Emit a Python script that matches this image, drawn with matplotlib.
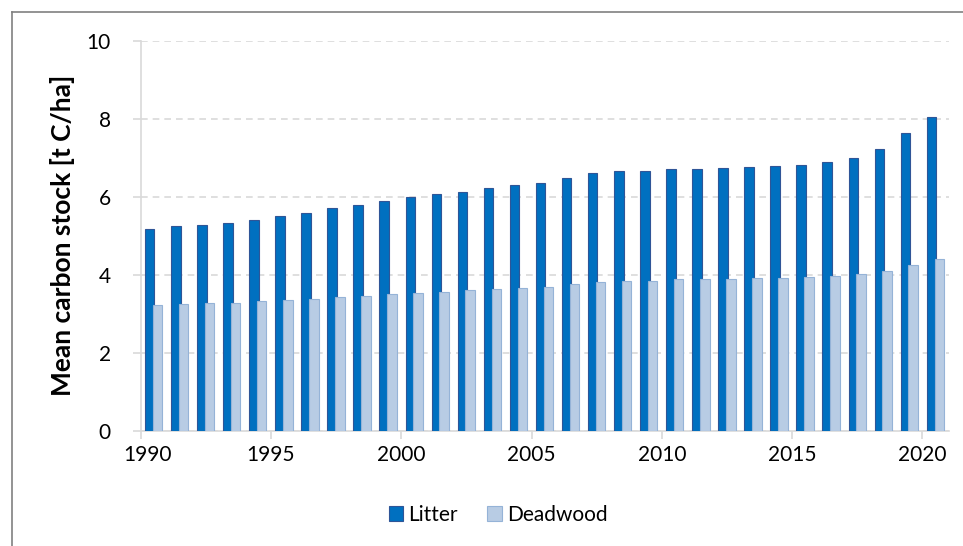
import numpy as np
import matplotlib
matplotlib.use('Agg')
import matplotlib.pyplot as plt
from matplotlib.lines import Line2D
import matplotlib.transforms as mtransforms

plt.rcParams['font.family'] = ['Lato', 'DejaVu Sans']

# datos
anios = list(range(1990, 2021))
litter = [5.17, 5.24, 5.27, 5.32, 5.41, 5.51, 5.59, 5.71, 5.80, 5.89,
          5.99, 6.07, 6.13, 6.22, 6.30, 6.36, 6.49, 6.62, 6.66, 6.67,
          6.72, 6.72, 6.73, 6.76, 6.78, 6.81, 6.89, 7.00, 7.24, 7.63, 8.04]
deadwood = [3.22, 3.25, 3.27, 3.28, 3.32, 3.35, 3.39, 3.42, 3.46, 3.50,
            3.54, 3.57, 3.60, 3.64, 3.67, 3.70, 3.76, 3.82, 3.84, 3.85,
            3.88, 3.89, 3.90, 3.91, 3.93, 3.95, 3.98, 4.02, 4.11, 4.26, 4.41]
etiquetas_x = ['1990', '1995', '2000', '2005', '2010', '2015', '2020']
etiquetas_y = [0, 2, 4, 6, 8, 10]

fig = plt.figure(figsize=(9.63, 5.46), dpi=100)
ax = fig.add_axes([0.1461, 0.2112, 0.8389, 0.7137])

x = np.arange(len(anios))
ancho = 0.365
ax.bar(x + 0.345, litter, width=ancho, color='#0070C0', edgecolor='#2F5597',
       linewidth=0.8, label='Litter', zorder=3)
ax.bar(x + 0.645, deadwood, width=ancho, color='#B8CCE4', edgecolor='#95B3D7',
       linewidth=0.8, label='Deadwood', zorder=3)

ax.set_xlim(0, len(anios))
ax.set_ylim(0, 10)
ax.set_yticks(etiquetas_y)
ax.set_yticklabels([str(v) for v in etiquetas_y])
pos_x = [anios.index(int(a)) for a in etiquetas_x]
ax.set_xticks(pos_x)
ax.set_xticklabels(etiquetas_x)

ax.grid(axis='y', color='#D9D9D9', linestyle=(0, (4, 3)), linewidth=1.2, zorder=0)
for lado in ['top', 'right']:
    ax.spines[lado].set_visible(False)
for lado in ['left', 'bottom']:
    ax.spines[lado].set_color('#D9D9D9')
    ax.spines[lado].set_linewidth(1.2)
ax.tick_params(axis='both', colors='#D9D9D9', length=5.5, width=1.2, labelsize=15,
               labelcolor='black')
ax.tick_params(axis='x', pad=5)
ax.tick_params(axis='y', pad=16)

# desplazar la etiqueta 1990 un poco a la derecha como en Excel
desplaza = mtransforms.ScaledTranslation(7 / 100, 0, fig.dpi_scale_trans)
ax.get_xticklabels()[0].set_transform(ax.get_xticklabels()[0].get_transform() + desplaza)

ax.set_ylabel('Mean carbon stock [t C/ha]', fontsize=19, fontweight='bold')
ax.yaxis.set_label_coords(-0.0813, 0.5)

ax.legend(loc='center', bbox_to_anchor=(498 / 963, 1 - 515 / 546),
          bbox_transform=fig.transFigure, ncol=2, frameon=False, fontsize=15,
          handlelength=0.7, handleheight=0.7, handletextpad=0.25, columnspacing=1.4)

# marco del grafico
fig.add_artist(Line2D([11.5 / 963, 11.5 / 963], [0, 1 - 11.5 / 546],
                      transform=fig.transFigure, color='#808080', linewidth=1.2))
fig.add_artist(Line2D([11.5 / 963, 1], [1 - 11.5 / 546, 1 - 11.5 / 546],
                      transform=fig.transFigure, color='#808080', linewidth=1.2))

plt.savefig('out.png', dpi=100)
plt.close()
